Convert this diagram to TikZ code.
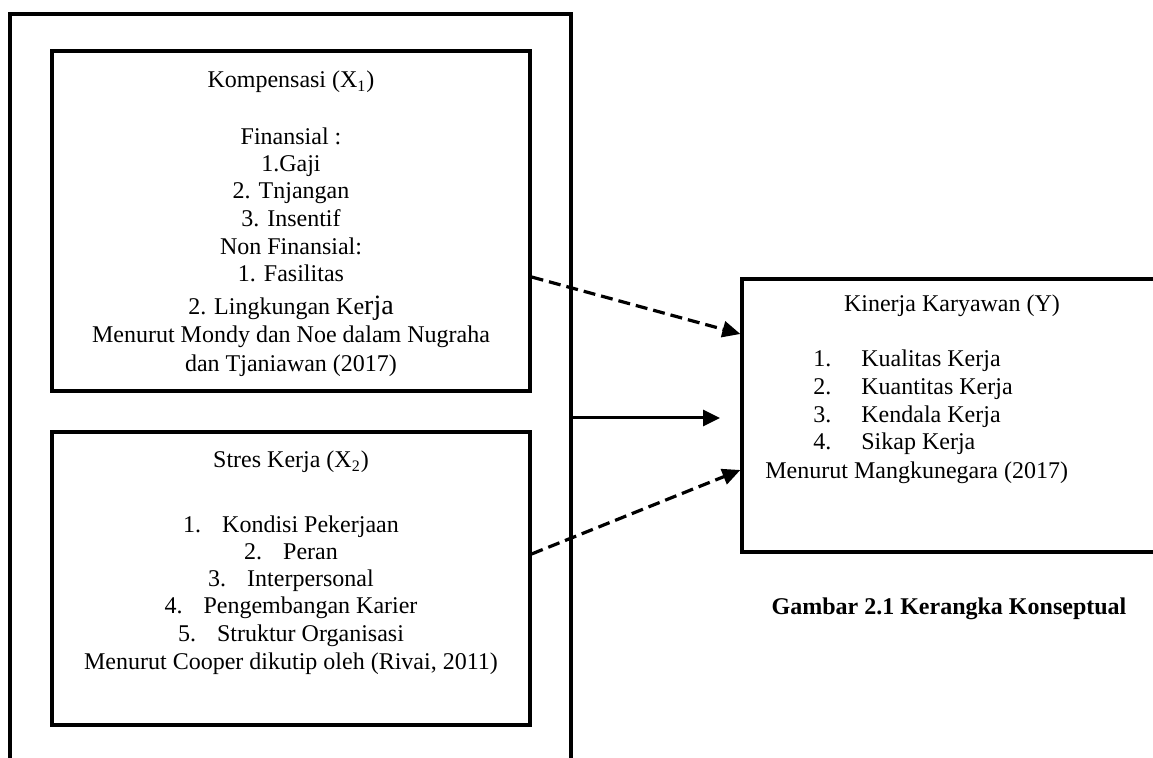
\documentclass[tikz,border=0pt]{standalone}
\usepackage{fontspec}
\setmainfont{Liberation Serif}
\usetikzlibrary{arrows.meta}
\begin{document}
\begin{tikzpicture}[x=0.5pt,y=-0.5pt,
  frame/.style={draw, line width=1.6pt, rectangle, inner sep=0pt},
  txt/.style={font=\fontsize{12}{14}\selectfont, inner sep=0pt, anchor=base},
  ltxt/.style={font=\fontsize{12}{14}\selectfont, inner sep=0pt, anchor=base west},
  captxt/.style={font=\fontsize{12}{14}\selectfont\bfseries, inner sep=0pt, anchor=base},
  dasharrow/.style={line width=1.6pt, dash pattern=on 6pt off 3pt, -{Triangle[length=9pt,width=8pt]}},
  solidarrow/.style={line width=1.5pt, -{Triangle[length=8.5pt,width=8pt]}}]
\useasboundingbox (0,0) rectangle (1153,758);
\clip (0,0) rectangle (1153,758);
% frames
\node[frame, minimum width=280.5pt, minimum height=393pt] (outer) at (290.5,407) {};
\node[frame, minimum width=239pt, minimum height=170pt] (top) at (291,221) {};
\node[frame, minimum width=239pt, minimum height=146.5pt] (bot) at (291,578.5) {};
\node[frame, minimum width=229pt, minimum height=136.5pt] (right) at (971,415.5) {};
% top box text
\node[txt] (kt) at (291,88) {Kompensasi (X\textsubscript{1})};
\node[txt] (k1) at (291,145) {Finansial :};
\node[txt] (k2) at (291,172) {1.Gaji};
\node[txt] (k3) at (291,199) {2. Tnjangan};
\node[txt] (k4) at (291,227) {3. Insentif};
\node[txt] (k5) at (291,255) {Non Finansial:};
\node[txt] (k6) at (291,282) {1. Fasilitas};
\node[txt] (k7) at (291,315) {2. Lingkungan Ke{\fontsize{14}{14}\selectfont rja}};
\node[txt] (k8) at (291,343) {Menurut Mondy dan Noe dalam Nugraha};
\node[txt] (k9) at (291,372) {dan Tjaniawan (2017)};
% bottom box text
\node[txt] (st) at (291,468) {Stres Kerja (X\textsubscript{2})};
\node[txt] (s1) at (291,533) {1.\hspace{10.5pt}Kondisi Pekerjaan};
\node[txt] (s2) at (291,560) {2.\hspace{10.5pt}Peran};
\node[txt] (s3) at (291,587) {3.\hspace{10.5pt}Interpersonal};
\node[txt] (s4) at (291,614) {4.\hspace{10.5pt}Pengembangan Karier};
\node[txt] (s5) at (291,642) {5.\hspace{10.5pt}Struktur Organisasi};
\node[txt] (s6) at (291,670) {Menurut Cooper dikutip oleh (Rivai, 2011)};
% right box text
\node[txt] (yt) at (952,312) {Kinerja Karyawan (Y)};
\node[ltxt] (yn1) at (813,367) {1.};
\node[ltxt] (yi1) at (861,367) {Kualitas Kerja};
\node[ltxt] (yn2) at (813,395) {2.};
\node[ltxt] (yi2) at (861,395) {Kuantitas Kerja};
\node[ltxt] (yn3) at (813,423) {3.};
\node[ltxt] (yi3) at (861,423) {Kendala Kerja};
\node[ltxt] (yn4) at (813,450) {4.};
\node[ltxt] (yi4) at (861,450) {Sikap Kerja};
\node[ltxt] (ym) at (765,479) {Menurut Mangkunegara (2017)};
% caption
\node[captxt] (cap) at (949,615) {Gambar 2.1 Kerangka Konseptual};
% connectors
\coordinate (stip) at (720,418);
\draw[dasharrow] ([yshift=-28pt]top.east) -- ([yshift=40.75pt]right.west);
\draw[solidarrow] ([yshift=-5.5pt]outer.east) -- (stip);
\draw[dasharrow] ([yshift=12.25pt]bot.east) -- ([yshift=-27.25pt]right.west);
\end{tikzpicture}
\end{document}
